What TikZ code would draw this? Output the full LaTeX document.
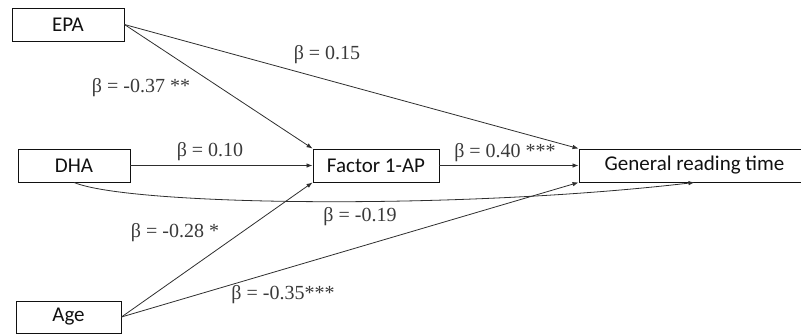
\documentclass[tikz,border=0pt]{standalone}
\usepackage{fontspec}
\setmainfont{Liberation Serif}
\newfontfamily\boxfont{Carlito}
\usepackage{xcolor}
\usetikzlibrary{arrows.meta}
\definecolor{ink}{HTML}{111111}
\definecolor{linegray}{HTML}{2E2E2E}
\definecolor{labelgray}{HTML}{3A3A3A}
\tikzset{
  var/.style={rectangle, draw=ink, line width=0.9pt, align=center, inner sep=0pt, minimum height=33pt, text=ink, font=\boxfont\fontsize{21}{23}\selectfont},
  coef/.style={inner sep=0pt, text=labelgray, font=\fontsize{20}{22}\selectfont},
  arrow/.style={-{Latex[length=6pt,width=4.5pt]}, draw=linegray, line width=0.8pt}
}
\begin{document}
\begin{tikzpicture}[x=1pt,y=-1pt]
  \clip (0,0) rectangle (801,335);
  \node[var, minimum width=112pt] (epa) at (68,24.5) {EPA};
  \node[var, minimum width=112pt] (dha) at (74,165.5) {DHA};
  \node[var, minimum width=126pt] (factor) at (376,165.5) {Factor 1-AP};
  \node[var, minimum width=105pt, minimum height=32pt] (age) at (68.5,317) {Age};
  \node[var, minimum width=231pt] (grt) at (694.5,165.5) {General reading time};

  \draw[arrow] (epa.east) -- (factor.north west);
  \draw[arrow] (epa.east) -- (grt.north west);
  \draw[arrow] (dha.east) -- (factor.west);
  \draw[arrow] (factor.east) -- (grt.west);
  \draw[arrow] (dha.south) .. controls +(55,23) and +(-240,28) .. (grt.south);
  \draw[arrow] (age.east) -- (factor.south west);
  \draw[arrow] (age.east) -- (grt.south west);

  \node[coef] (c-epa-fac) at (141,88) {β = -0.37 **};
  \node[coef] (c-epa-grt) at (327,55) {β = 0.15};
  \node[coef] (c-dha-fac) at (210,152) {β = 0.10};
  \node[coef] (c-fac-grt) at (505,153) {β = 0.40 ***};
  \node[coef] (c-dha-grt) at (360,217) {β = -0.19};
  \node[coef] (c-age-fac) at (175,233) {β = -0.28 *};
  \node[coef] (c-age-grt) at (283,295) {β = -0.35***};
\end{tikzpicture}
\end{document}
